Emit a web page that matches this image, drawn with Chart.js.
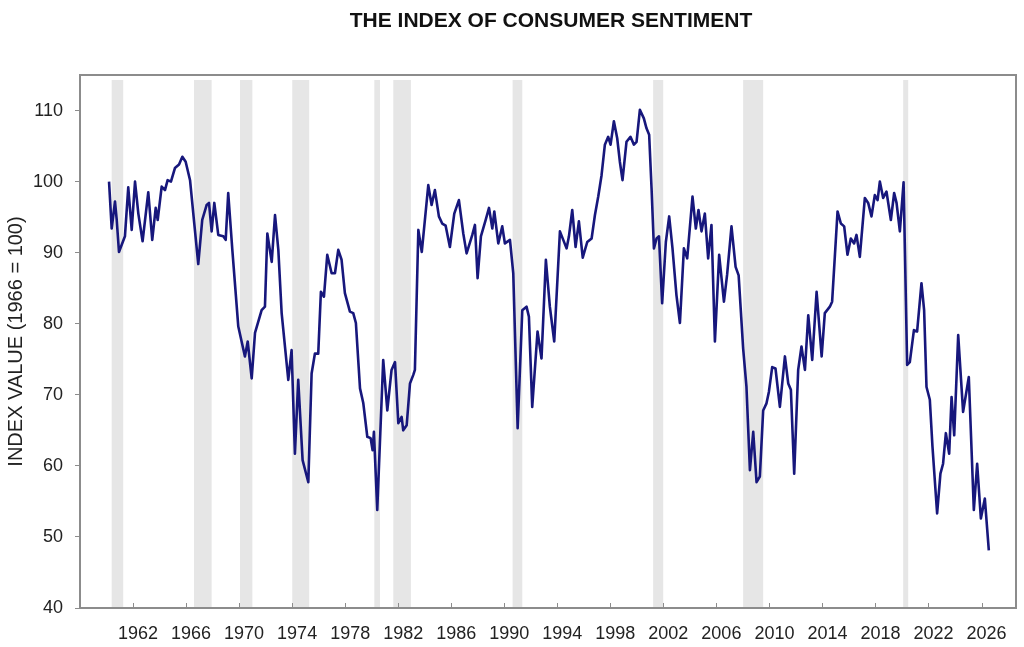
<!DOCTYPE html>
<html>
<head>
<meta charset="utf-8">
<script src="https://cdn.jsdelivr.net/npm/chart.js@4/dist/chart.umd.min.js"></script>
<style>
  html, body { margin: 0; padding: 0; background: #fff; }
  #chart { display: block; }
</style>
</head>
<body>
<canvas id="chart" width="1024" height="647"></canvas>
<script>
// index readings (x = year as decimal, y = index value)
const years = [
  1960.19, 1960.39, 1960.64, 1960.77, 1960.94, 1961.39, 1961.64, 1961.90, 1962.15, 1962.40,
  1962.72, 1963.15, 1963.45, 1963.71, 1963.86, 1964.16, 1964.41, 1964.61, 1964.86, 1965.16,
  1965.47, 1965.72, 1965.97, 1966.30, 1966.62, 1966.92, 1967.22, 1967.55, 1967.73, 1967.93,
  1968.13, 1968.43, 1968.81, 1968.99, 1969.18, 1969.49, 1969.94, 1970.44, 1970.65, 1970.95,
  1971.20, 1971.70, 1971.95, 1972.13, 1972.46, 1972.71, 1972.96, 1973.21, 1973.71, 1973.96,
  1974.21, 1974.46, 1974.79, 1975.22, 1975.47, 1975.72, 1975.97, 1976.17, 1976.40, 1976.65,
  1976.98, 1977.23, 1977.48, 1977.73, 1977.98, 1978.36, 1978.61, 1978.81, 1979.12, 1979.37,
  1979.67, 1979.92, 1980.07, 1980.17, 1980.42, 1980.87, 1981.18, 1981.50, 1981.76, 1982.01,
  1982.26, 1982.38, 1982.64, 1982.89, 1983.14, 1983.26, 1983.52, 1983.78, 1984.27, 1984.52,
  1984.77, 1985.07, 1985.32, 1985.58, 1985.90, 1986.23, 1986.58, 1986.91, 1987.16, 1987.59,
  1987.79, 1987.99, 1988.24, 1988.60, 1988.85, 1989.10, 1989.25, 1989.55, 1989.85, 1990.05,
  1990.43, 1990.68, 1991.01, 1991.36, 1991.68, 1991.86, 1992.11, 1992.51, 1992.81, 1993.14,
  1993.44, 1993.77, 1994.20, 1994.45, 1994.70, 1994.88, 1995.13, 1995.38, 1995.63, 1995.92,
  1996.26, 1996.59, 1996.84, 1997.09, 1997.34, 1997.59, 1997.84, 1998.02, 1998.27, 1998.52,
  1998.72, 1998.92, 1999.22, 1999.52, 1999.78, 1999.98, 2000.23, 2000.53, 2000.73, 2000.93,
  2001.11, 2001.29, 2001.49, 2001.67, 2001.91, 2002.19, 2002.44, 2002.69, 2002.99, 2003.25,
  2003.55, 2003.80, 2004.20, 2004.45, 2004.65, 2004.88, 2005.13, 2005.38, 2005.63, 2005.89,
  2006.21, 2006.57, 2006.81, 2007.14, 2007.45, 2007.68, 2008.02, 2008.27, 2008.53, 2008.78,
  2009.03, 2009.28, 2009.53, 2009.78, 2009.96, 2010.21, 2010.46, 2010.79, 2011.17, 2011.42,
  2011.62, 2011.87, 2012.17, 2012.42, 2012.68, 2012.93, 2013.23, 2013.56, 2013.94, 2014.18,
  2014.56, 2014.73, 2015.14, 2015.39, 2015.64, 2015.89, 2016.14, 2016.39, 2016.57, 2016.82,
  2017.20, 2017.45, 2017.70, 2017.95, 2018.16, 2018.33, 2018.58, 2018.83, 2019.16, 2019.41,
  2019.59, 2019.84, 2020.12, 2020.39, 2020.59, 2020.90, 2021.14, 2021.47, 2021.67, 2021.85,
  2022.10, 2022.30, 2022.65, 2022.90, 2023.10, 2023.31, 2023.56, 2023.74, 2023.94, 2024.24,
  2024.61, 2025.04, 2025.42, 2025.67, 2025.95, 2026.25, 2026.55
];
const values = [
  100.0, 93.4, 97.2, 94.6, 90.1, 92.3, 99.2, 93.2, 100.0, 95.5,
  91.6, 98.5, 91.8, 96.3, 94.6, 99.3, 98.8, 100.2, 100.0, 101.9,
  102.4, 103.5, 102.8, 100.2, 94.1, 88.4, 94.6, 96.7, 97.0, 93.0,
  97.0, 92.5, 92.3, 91.8, 98.4, 90.4, 79.6, 75.4, 77.5, 72.3,
  78.7, 81.9, 82.4, 92.7, 88.7, 95.3, 90.4, 81.5, 72.1, 76.3,
  61.7, 72.1, 60.8, 57.7, 73.0, 75.8, 75.8, 84.5, 83.8, 89.7,
  87.1, 87.1, 90.4, 89.0, 84.3, 81.7, 81.5, 80.1, 70.9, 68.8,
  64.1, 63.9, 62.2, 64.8, 53.8, 74.9, 67.8, 73.5, 74.6, 66.0,
  66.9, 65.0, 65.7, 71.6, 72.8, 73.5, 93.2, 90.1, 99.5, 96.7,
  98.8, 95.1, 94.1, 93.8, 90.8, 95.5, 97.4, 92.7, 89.9, 92.5,
  93.9, 86.4, 92.3, 94.6, 96.3, 93.4, 95.8, 91.3, 93.7, 91.3,
  91.8, 87.1, 65.3, 81.9, 82.4, 81.0, 68.3, 78.9, 75.1, 89.0,
  82.4, 77.5, 93.0, 91.8, 90.6, 92.3, 96.0, 90.8, 94.4, 89.3,
  91.5, 92.0, 95.3, 97.9, 100.9, 105.2, 106.3, 105.2, 108.5, 106.1,
  102.8, 100.2, 105.6, 106.3, 105.2, 105.6, 110.1, 108.9, 107.5, 106.6,
  99.1, 90.6, 92.0, 92.3, 82.9, 91.5, 95.1, 90.6, 84.0, 80.1,
  90.6, 89.2, 97.9, 93.4, 96.0, 93.0, 95.5, 89.2, 93.9, 77.5,
  89.7, 83.1, 86.9, 93.7, 88.0, 86.8, 76.5, 71.1, 59.4, 64.8,
  57.7, 58.5, 67.8, 68.8, 70.4, 73.9, 73.7, 68.3, 75.4, 71.6,
  70.7, 58.9, 73.5, 76.8, 73.5, 81.2, 74.9, 84.5, 75.4, 81.5,
  82.4, 83.1, 95.8, 94.1, 93.7, 89.7, 92.0, 91.3, 92.5, 89.4,
  97.7, 97.0, 95.1, 98.1, 97.4, 100.0, 97.7, 98.6, 94.6, 98.4,
  97.0, 93.0, 99.9, 74.2, 74.6, 79.1, 78.9, 85.7, 81.9, 71.1,
  69.3, 62.7, 53.3, 58.9, 60.3, 64.6, 61.7, 69.7, 64.3, 78.4,
  67.6, 72.5, 53.8, 60.3, 52.6, 55.4, 48.1
];

// recession shading
const recStart = [1960.39, 1966.60, 1970.07, 1974.01, 1980.20, 1981.63, 1990.63, 2001.23, 2008.02, 2020.09];
const recEnd   = [1961.26, 1967.93, 1971.00, 1975.29, 1980.63, 1982.96, 1991.36, 2001.99, 2009.53, 2020.47];

const xTicks = [1962, 1966, 1970, 1974, 1978, 1982, 1986, 1990, 1994, 1998, 2002, 2006, 2010, 2014, 2018, 2022, 2026];
const yTicks = [40, 50, 60, 70, 80, 90, 100, 110];

const FONT = "'Liberation Sans', Arial, Helvetica, sans-serif";

const bandsPlugin = {
    id: 'bands',
    beforeDatasetsDraw(chart) {
        const { ctx, chartArea, scales: { x } } = chart;
        ctx.save();
        ctx.fillStyle = '#e6e6e6';
        recStart.forEach((s, i) => {
            const x0 = x.getPixelForValue(s);
            const x1 = x.getPixelForValue(recEnd[i]);
            ctx.fillRect(x0, chartArea.top + 5, x1 - x0, chartArea.bottom - chartArea.top - 5);
        });
        ctx.restore();
    }
};

const framePlugin = {
    id: 'frame',
    afterDatasetsDraw(chart) {
        const { ctx, chartArea, scales: { x } } = chart;
        ctx.save();
        ctx.strokeStyle = '#8c8c8c';
        ctx.lineWidth = 2;
        ctx.strokeRect(chartArea.left, chartArea.top, chartArea.right - chartArea.left, chartArea.bottom - chartArea.top);
        // small tick marks pointing into the plot on the x axis
        ctx.lineWidth = 1;
        xTicks.forEach(t => {
            const px = Math.round(x.getPixelForValue(t)) + 0.5;
            ctx.beginPath();
            ctx.moveTo(px, chartArea.bottom);
            ctx.lineTo(px, chartArea.bottom - 5);
            ctx.stroke();
        });
        ctx.restore();
    }
};

const titlePlugin = {
    id: 'topTitle',
    afterDraw(chart) {
        const { ctx, chartArea } = chart;
        ctx.save();
        ctx.font = 'bold 21px ' + FONT;
        ctx.fillStyle = '#111';
        ctx.textAlign = 'center';
        ctx.textBaseline = 'middle';
        ctx.fillText('THE INDEX OF CONSUMER SENTIMENT', (chartArea.left + chartArea.right) / 2 + 3, 21);
        ctx.restore();
    }
};

new Chart(document.getElementById('chart'), {
    type: 'line',
    data: {
        datasets: [{
            data: years.map((y, i) => ({ x: y, y: values[i] })),
            borderColor: '#17177c',
            borderWidth: 2.6,
            pointRadius: 0,
            tension: 0,
            borderJoinStyle: 'round'
        }]
    },
    options: {
        responsive: false,
        animation: false,
        layout: { padding: { top: 75, right: 8, left: 0, bottom: 0 } },
        plugins: {
            legend: { display: false },
            tooltip: { enabled: false }
        },
        scales: {
            x: {
                type: 'linear',
                min: 1958,
                max: 2028.6,
                afterBuildTicks: s => { s.ticks = xTicks.map(v => ({ value: v })); },
                afterFit: s => { s.height = 39; },
                grid: { display: false, drawTicks: false },
                border: { display: false },
                ticks: {
                    padding: 15,
                    labelOffset: 5,
                    maxRotation: 0,
                    autoSkip: false,
                    color: '#222',
                    font: { family: FONT, size: 18 },
                    callback: v => String(v)
                }
            },
            y: {
                min: 40,
                max: 115,
                afterBuildTicks: s => { s.ticks = yTicks.map(v => ({ value: v })); },
                afterFit: s => { s.width = 80; },
                grid: { drawOnChartArea: false, tickLength: 5, color: '#8c8c8c' },
                border: { display: false },
                ticks: {
                    padding: 12,
                    color: '#222',
                    font: { family: FONT, size: 18 }
                },
                title: {
                    display: true,
                    text: 'INDEX VALUE (1966 = 100)',
                    color: '#222',
                    font: { family: FONT, size: 20 },
                    padding: { top: 4, bottom: 0 }
                }
            }
        }
    },
    plugins: [bandsPlugin, framePlugin, titlePlugin]
});
</script>
</body>
</html>
